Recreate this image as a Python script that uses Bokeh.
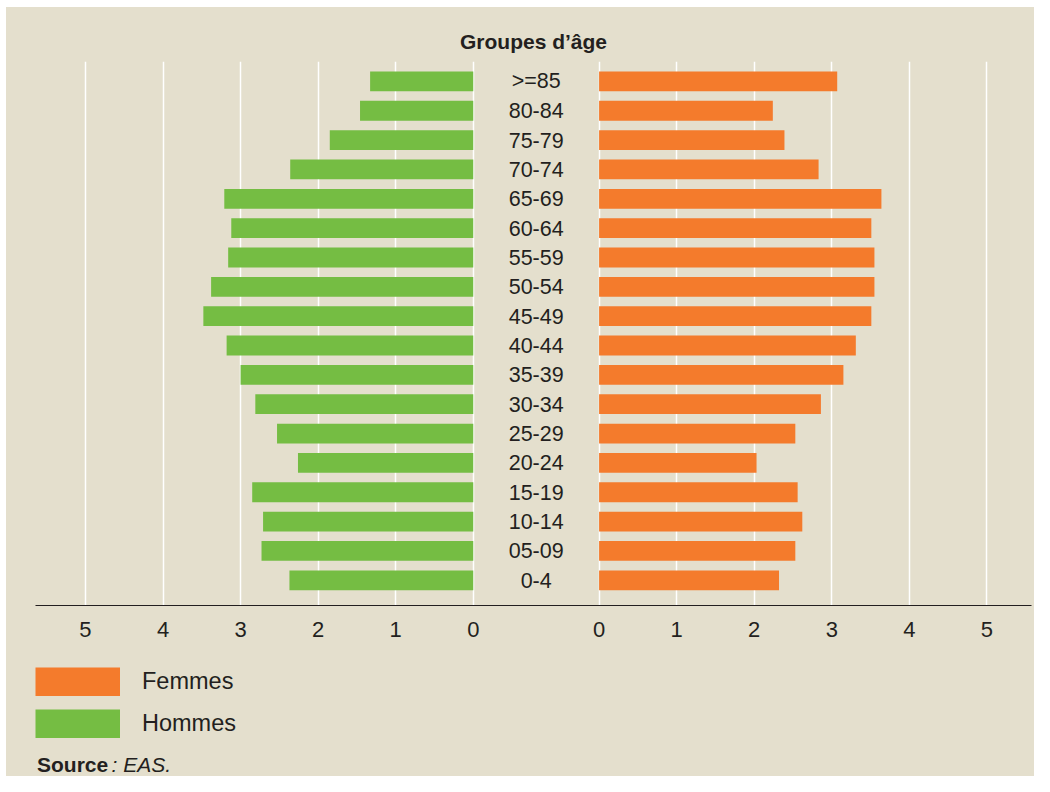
from bokeh.plotting import figure
from bokeh.models import Range1d, FixedTicker, Legend, LegendItem, Label, ColumnDataSource
from bokeh.layouts import column
from bokeh.core.properties import value
from bokeh.embed import file_html
from bokeh.resources import INLINE

# ---- data ----
groups = [">=85", "80-84", "75-79", "70-74", "65-69", "60-64", "55-59", "50-54", "45-49",
          "40-44", "35-39", "30-34", "25-29", "20-24", "15-19", "10-14", "05-09", "0-4"]
hommes = [1.33, 1.46, 1.85, 2.36, 3.21, 3.12, 3.16, 3.38, 3.48,
          3.18, 3.00, 2.81, 2.53, 2.26, 2.85, 2.71, 2.73, 2.37]
femmes = [3.07, 2.24, 2.39, 2.83, 3.64, 3.51, 3.55, 3.55, 3.51,
          3.31, 3.15, 2.86, 2.53, 2.03, 2.56, 2.62, 2.53, 2.32]
tick_values = [0, 1, 2, 3, 4, 5]
title_text = "Groupes d\u2019âge"
legend_labels = ["Femmes", "Hommes"]
source_bold = "Source"
source_rest = ": EAS."

# ---- style ----
BG = "#e4dfcd"
GREEN = "#75bd43"
ORANGE = "#f47b2c"
TXT = "#231f20"
FONT = "Liberation Sans"
GAP = 0.811  # half gap between the two zero lines (in value units)

n = len(groups)
ypos = [n - 1 - i for i in range(n)]

src = ColumnDataSource(dict(
    y=ypos,
    grp=groups,
    f_left=[GAP] * n,
    f_right=[GAP + v for v in femmes],
    m_left=[-GAP - v for v in hommes],
    m_right=[-GAP] * n,
    xc=[0.0] * n,
))

W = 1028
HA = 648
HB = 121

p = figure(width=W, height=HA,
           x_range=Range1d(-6.455, 6.386), y_range=Range1d(-0.859, n - 1 + 0.678),
           min_border_left=29, min_border_right=3, min_border_top=54, min_border_bottom=50,
           y_axis_location=None, toolbar_location=None, output_backend="svg",
           background_fill_alpha=0, border_fill_color=BG, outline_line_color=None)

p.title.text = title_text
p.title.align = "center"
p.title.text_font = FONT
p.title.text_font_size = "21px"
p.title.text_font_style = "bold"
p.title.text_color = TXT
p.title.standoff = 18

ticks = [round(-GAP - t, 3) for t in tick_values] + [round(GAP + t, 3) for t in tick_values]
overrides = {}
for t in tick_values:
    overrides[round(-GAP - t, 3)] = str(t)
    overrides[round(GAP + t, 3)] = str(t)
ticker = FixedTicker(ticks=ticks)
p.xaxis.ticker = ticker
p.xgrid.ticker = ticker
p.xaxis.major_label_overrides = overrides
p.xaxis.major_tick_line_color = None
p.xaxis.minor_tick_line_color = None
p.xaxis.major_tick_out = 0
p.xaxis.major_tick_in = 0
p.xaxis.axis_line_color = TXT
p.xaxis.axis_line_width = 1.2
p.xaxis.major_label_text_font = FONT
p.xaxis.major_label_text_font_size = "22px"
p.xaxis.major_label_text_color = TXT
p.xaxis.major_label_standoff = 16
p.xgrid.grid_line_color = "white"
p.xgrid.grid_line_width = 1.5
p.ygrid.grid_line_color = None

p.hbar(y="y", left="f_left", right="f_right", height=0.675, source=src,
       fill_color=ORANGE, line_color=None)
p.hbar(y="y", left="m_left", right="m_right", height=0.675, source=src,
       fill_color=GREEN, line_color=None)

p.text(x="xc", y="y", text="grp", source=src, text_align="center", text_baseline="middle",
       text_font=value(FONT), text_font_size="21.5px", text_color=TXT)

# ---- bottom panel: legend and source ----
q = figure(width=W, height=HB, x_range=Range1d(0, 1), y_range=Range1d(0, 1),
           min_border_left=29, min_border_right=3, min_border_top=0,
           min_border_bottom=0, x_axis_location=None, y_axis_location=None,
           toolbar_location=None, output_backend="svg",
           background_fill_alpha=0, border_fill_color=BG, outline_line_color=None)
q.xgrid.visible = False
q.ygrid.visible = False

# legend swatches (drawn outside the visible range; only their legend entries show)
lf = q.line(x=[-10, -9], y=[-10, -10], line_color=ORANGE, line_width=29, line_cap="butt")
lm = q.line(x=[-10, -9], y=[-10, -10], line_color=GREEN, line_width=29, line_cap="butt")

legend = Legend(items=[LegendItem(label=legend_labels[0], renderers=[lf]),
                       LegendItem(label=legend_labels[1], renderers=[lm])],
                location=(0, 38), orientation="vertical",
                glyph_width=85, glyph_height=29, spacing=13, padding=0, margin=0,
                label_standoff=22, label_text_font=FONT, label_text_font_size="23.5px",
                label_text_color=TXT, label_text_baseline="middle",
                border_line_color=None, background_fill_alpha=0)
q.add_layout(legend)

q.add_layout(Label(x=1.5, y=12, x_units="screen", y_units="screen", text=source_bold,
                   text_baseline="alphabetic", text_font=FONT, text_font_size="21px",
                   text_font_style="bold", text_color=TXT))
q.add_layout(Label(x=76, y=12, x_units="screen", y_units="screen", text=source_rest,
                   text_baseline="alphabetic", text_font=FONT, text_font_size="21px",
                   text_font_style="italic", text_color=TXT))

layout = column(p, q, spacing=0, margin=(7, 0, 0, 6), styles={"background-color": BG})

open("out.html", "w").write(file_html(layout, INLINE))
